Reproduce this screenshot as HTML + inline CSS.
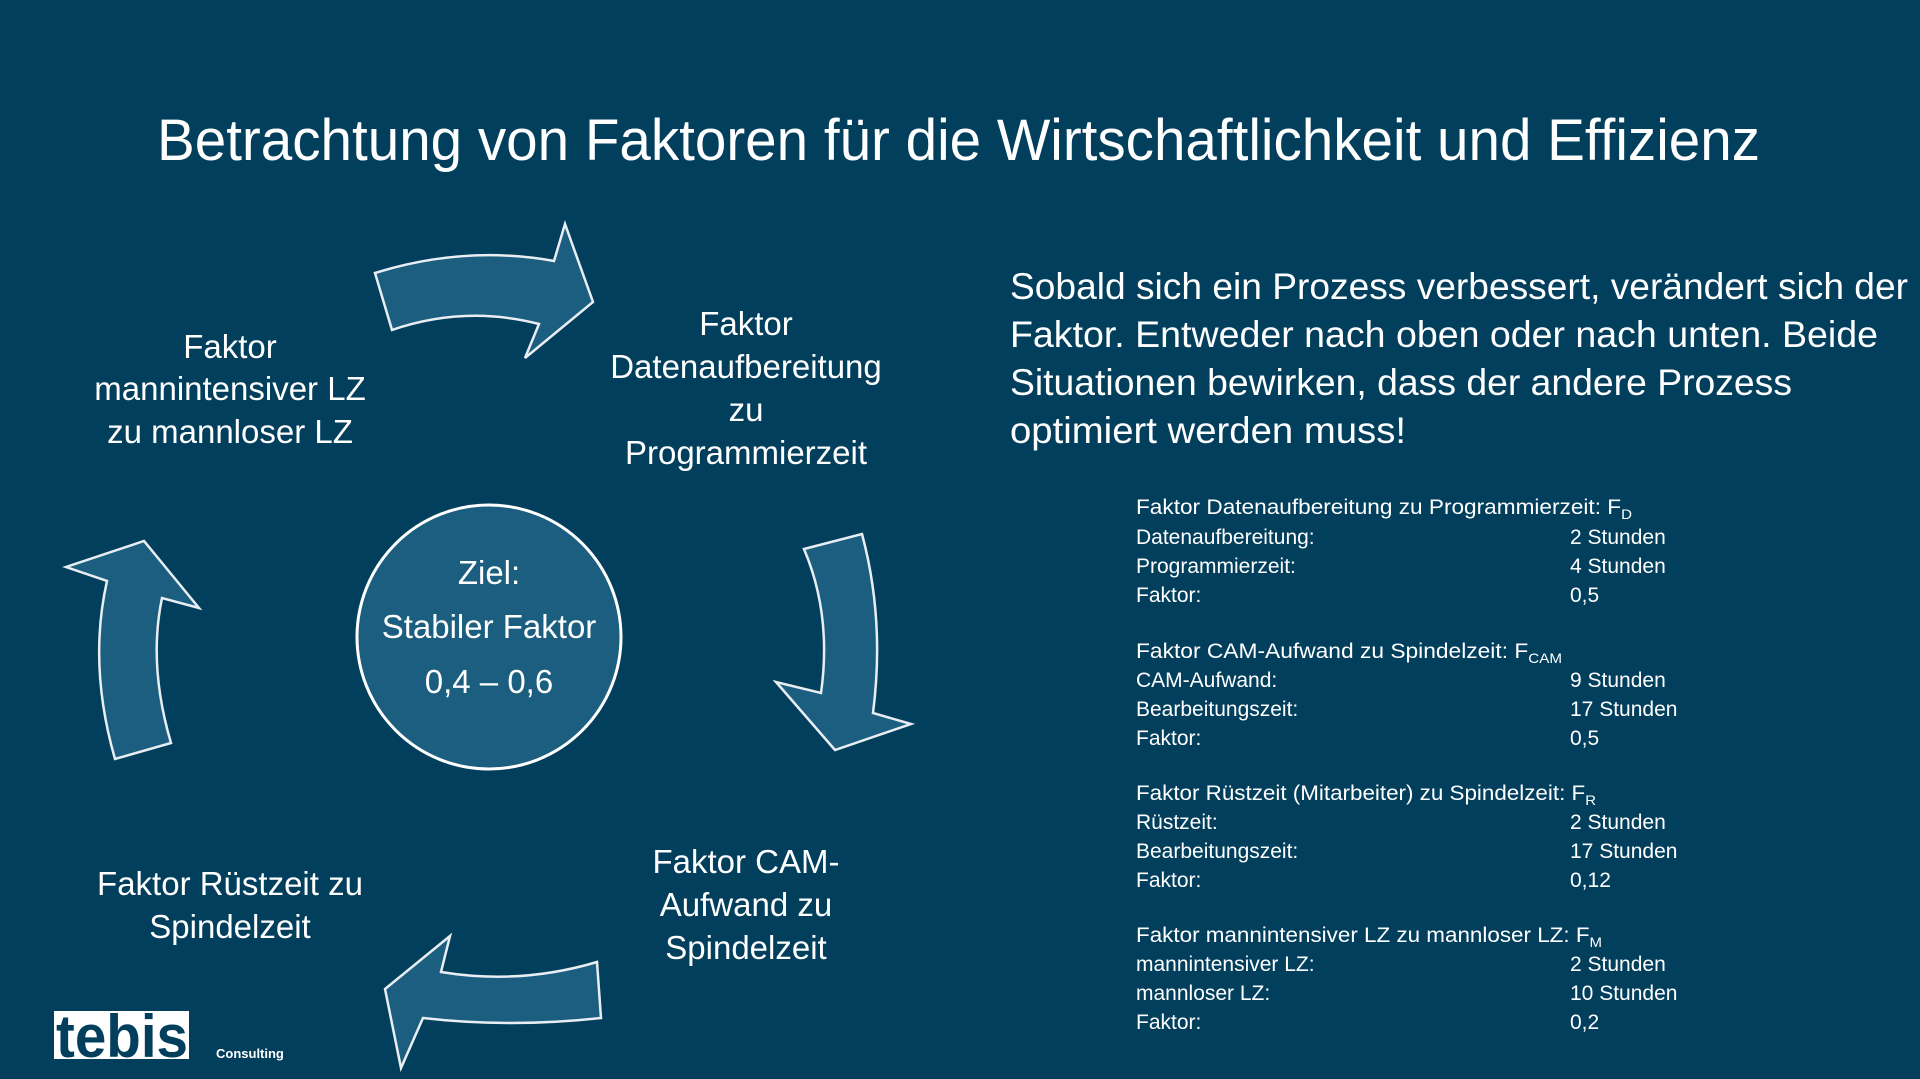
<!DOCTYPE html>
<html><head><meta charset="utf-8"><style>
html,body{margin:0;padding:0;background:#023f5d;}
svg{display:block}
text{font-family:"Liberation Sans",sans-serif;fill:#fff}
</style></head><body>
<svg width="1920" height="1079" viewBox="0 0 1920 1079" xmlns="http://www.w3.org/2000/svg">
<rect width="1920" height="1079" fill="#023f5d"/>
<text x="157" y="160" font-size="58" textLength="1603" lengthAdjust="spacingAndGlyphs">Betrachtung von Faktoren für die Wirtschaftlichkeit und Effizienz</text>

<g fill="#1b5e80" stroke="#e8eef2" stroke-width="2.5" stroke-linejoin="miter">
<path d="M375,273 Q465,245 554,261 L565,224 L593,302 L525,358 L539,324 Q465,305 392,330 Z"/>
<path d="M804,549 L862,534 Q885,620 873,713 L911,724 L835,750 L776,682 L821,693 Q832,615 804,549 Z"/>
<path d="M597,962 L601,1018 Q510,1028 423,1018 L401,1068 L385,989 L450,936 L441,972 Q520,985 597,962 Z"/>
<path d="M115,759 Q88,665 107,581 L66,567 L144,541 L199,608 L162,598 Q148,665 171,743 Z"/>
</g>
<circle cx="489" cy="637" r="132" fill="#1b5e80" stroke="#fff" stroke-width="3"/>
<g font-size="33" text-anchor="middle">
<text x="489" y="584">Ziel:</text>
<text x="489" y="638">Stabiler Faktor</text>
<text x="489" y="693">0,4 – 0,6</text>
<text x="230" y="358">Faktor</text>
<text x="230" y="400">mannintensiver LZ</text>
<text x="230" y="443">zu mannloser LZ</text>
<text x="746" y="335">Faktor</text>
<text x="746" y="378">Datenaufbereitung</text>
<text x="746" y="421">zu</text>
<text x="746" y="464">Programmierzeit</text>
<text x="746" y="873">Faktor CAM-</text>
<text x="746" y="916">Aufwand zu</text>
<text x="746" y="959">Spindelzeit</text>
<text x="230" y="895">Faktor Rüstzeit zu</text>
<text x="230" y="938">Spindelzeit</text>
</g>
<g font-size="37">
<text x="1010" y="299" textLength="898" lengthAdjust="spacingAndGlyphs">Sobald sich ein Prozess verbessert, verändert sich der</text>
<text x="1010" y="347" textLength="868" lengthAdjust="spacingAndGlyphs">Faktor. Entweder nach oben oder nach unten. Beide</text>
<text x="1010" y="395" textLength="782" lengthAdjust="spacingAndGlyphs">Situationen bewirken, dass der andere Prozess</text>
<text x="1010" y="443" textLength="396" lengthAdjust="spacingAndGlyphs">optimiert werden muss!</text>
</g>
<g font-size="21">
<text x="1136" y="514" textLength="496" lengthAdjust="spacingAndGlyphs">Faktor Datenaufbereitung zu Programmierzeit: F<tspan font-size="14" dy="5">D</tspan></text>
<text x="1136" y="544">Datenaufbereitung:</text><text x="1570" y="544">2 Stunden</text>
<text x="1136" y="573">Programmierzeit:</text><text x="1570" y="573">4 Stunden</text>
<text x="1136" y="602">Faktor:</text><text x="1570" y="602">0,5</text>
<text x="1136" y="658" textLength="426" lengthAdjust="spacingAndGlyphs">Faktor CAM-Aufwand zu Spindelzeit: F<tspan font-size="14" dy="5">CAM</tspan></text>
<text x="1136" y="687">CAM-Aufwand:</text><text x="1570" y="687">9 Stunden</text>
<text x="1136" y="716">Bearbeitungszeit:</text><text x="1570" y="716">17 Stunden</text>
<text x="1136" y="745">Faktor:</text><text x="1570" y="745">0,5</text>
<text x="1136" y="800" textLength="460" lengthAdjust="spacingAndGlyphs">Faktor Rüstzeit (Mitarbeiter) zu Spindelzeit: F<tspan font-size="14" dy="5">R</tspan></text>
<text x="1136" y="829">Rüstzeit:</text><text x="1570" y="829">2 Stunden</text>
<text x="1136" y="858">Bearbeitungszeit:</text><text x="1570" y="858">17 Stunden</text>
<text x="1136" y="887">Faktor:</text><text x="1570" y="887">0,12</text>
<text x="1136" y="942" textLength="466" lengthAdjust="spacingAndGlyphs">Faktor mannintensiver LZ zu mannloser LZ: F<tspan font-size="14" dy="5">M</tspan></text>
<text x="1136" y="971">mannintensiver LZ:</text><text x="1570" y="971">2 Stunden</text>
<text x="1136" y="1000">mannloser LZ:</text><text x="1570" y="1000">10 Stunden</text>
<text x="1136" y="1029">Faktor:</text><text x="1570" y="1029">0,2</text>
</g>
<rect x="54" y="1011" width="135" height="48" fill="#fff"/>
<text x="56" y="1057" font-size="60" font-weight="bold" textLength="132" lengthAdjust="spacingAndGlyphs" style="fill:#023f5d">tebis</text>
<text x="216" y="1058" font-size="13" font-weight="bold">Consulting</text>
</svg>
</body></html>
